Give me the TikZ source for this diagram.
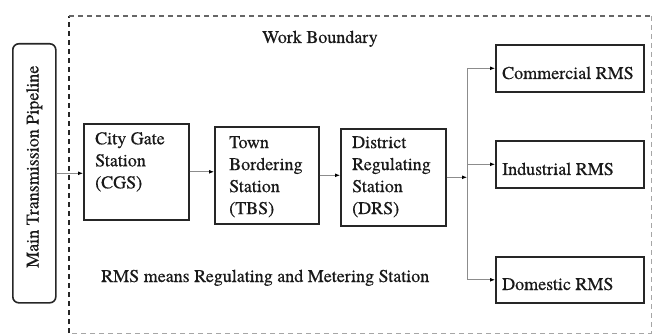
\documentclass[tikz,border=0pt]{standalone}
\usepackage{fontspec}
\setmainfont{texgyretermes}[Extension=.otf, UprightFont=*-regular, BoldFont=*-bold, FakeBold=0.4]
\usetikzlibrary{arrows.meta}
\begin{document}
\begin{tikzpicture}[x=1pt,y=-1pt,
  box/.style={draw=black!85, line width=1.6pt, inner sep=0pt, anchor=north west},
  txt/.style={inner sep=0pt, font=\fontsize{18}{22}\selectfont, align=left, text=black!90},
  flow/.style={draw=black!45, line width=0.9pt, -{Latex[length=5pt,width=4pt,color=black]}},
  bound/.style={dash pattern=on 5pt off 4pt}
]
\useasboundingbox (0,0) rectangle (653,334);
% work boundary
\coordinate (bTL) at (69,16);
\coordinate (bTR) at (651,16);
\coordinate (bBL) at (69,333);
\coordinate (bBR) at (651,333);
\draw[bound, line width=1.7pt, black!85] (bBL) -- (bTL);
\draw[bound, line width=1.3pt, black!60] (bTL) -- (bTR);
\draw[bound, line width=1pt, black!35] (bTR) -- (bBR) -- (bBL);
% boxes
\node[box, minimum width=43pt, minimum height=259pt, rounded corners=6pt] (pipe) at (12,43) {};
\node[box, minimum width=105pt, minimum height=96pt] (cgs) at (83,123) {};
\node[box, minimum width=104pt, minimum height=97pt] (tbs) at (214,126) {};
\node[box, minimum width=105pt, minimum height=97pt] (drs) at (340,128) {};
\node[box, minimum width=148pt, minimum height=47pt] (com) at (495,44) {};
\node[box, minimum width=148pt, minimum height=47pt] (ind) at (495,140) {};
\node[box, minimum width=148pt, minimum height=46pt] (dom) at (495,256) {};
% texts
\node[txt, rotate=90, anchor=base west] (pipet) at (38.5,268) {Main Transmission Pipeline};
\node[txt, anchor=north west] (cgst) at (95,132) {City Gate\\Station\\(CGS)};
\node[txt, anchor=north west] (tbst) at (229,136) {Town\\Bordering\\Station\\(TBS)};
\node[txt, anchor=north west] (drst) at (352,136) {District\\Regulating\\Station\\(DRS)};
\node[txt, anchor=base west] (comt) at (502,79) {Commercial RMS};
\node[txt, anchor=base west] (indt) at (502,175) {Industrial RMS};
\node[txt, anchor=base west] (domt) at (502,290) {Domestic RMS};
\node[txt, anchor=base west] (wb) at (262,43) {Work Boundary};
\node[txt, anchor=base west] (note) at (101,282) {RMS means Regulating and Metering Station};
% connectors
\coordinate (j) at (467,176.5);
\draw[flow] (pipe.east) -- (pipe.east -| cgs.west);
\draw[flow] (cgs.east) -- (cgs.east -| tbs.west);
\draw[flow] (tbs.east) -- (tbs.east -| drs.west);
\draw[flow] (drs.east) -- (drs.east -| j);
\draw[flow] (j) |- (com.west);
\draw[flow] (j) |- (dom.west);
\draw[flow] (j |- ind.west) -- (ind.west);
\end{tikzpicture}
\end{document}
